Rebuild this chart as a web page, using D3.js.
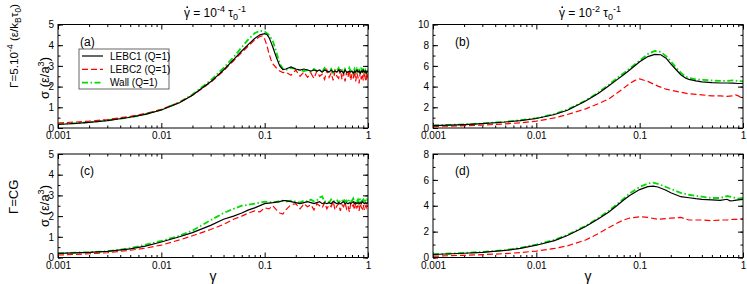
<!DOCTYPE html>
<html>
<head>
<meta charset="utf-8">
<script src="https://cdn.jsdelivr.net/npm/d3@7"></script>
<style>
    body { margin: 0; background: #fff; }
    svg { font-family: "Liberation Sans", Arial, sans-serif; }
</style>
</head>
<body>
<svg id="chart" width="747" height="284"></svg>
<script>
// strain values
const X_TICKS = [0.001, 0.01, 0.1, 1];
const X_TICK_LABELS = ["0.001", "0.01", "0.1", "1"];
const SERIES_NAMES = ["LEBC1 (Q=1)", "LEBC2 (Q=1)", "Wall (Q=1)"];

// noisy plateau, sampled on one strain grid
const TAIL_X = [0.16, 0.18, 0.2, 0.22, 0.24, 0.26, 0.28, 0.3, 0.32, 0.34, 0.36, 0.38, 0.4, 0.42,
    0.44, 0.46, 0.48, 0.5, 0.52, 0.54, 0.56, 0.58, 0.6, 0.62, 0.64, 0.66, 0.68, 0.7, 0.72,
    0.74, 0.76, 0.78, 0.8, 0.82, 0.84, 0.86, 0.88, 0.9, 0.92, 0.94, 0.96, 0.98, 1.0];

// (a) Gamma = 5e-4, rate 1e-4
const A_LEBC1 = [[0.001, 0.17], [0.0015, 0.22], [0.002, 0.27], [0.003, 0.36], [0.005, 0.52], [0.007, 0.66],
    [0.01, 0.87], [0.015, 1.22], [0.02, 1.58], [0.03, 2.23], [0.04, 2.8], [0.05, 3.3], [0.06, 3.72],
    [0.07, 4.05], [0.08, 4.32], [0.09, 4.5], [0.1, 4.56], [0.105, 4.52], [0.11, 4.38], [0.115, 4.15],
    [0.12, 3.9], [0.13, 3.4], [0.14, 3.0], [0.15, 2.82]];
const A_LEBC1_TAIL = [2.85, 2.95, 2.85, 2.8, 2.85, 2.8, 2.75, 2.8, 2.75, 2.8, 2.7, 2.8, 2.75, 2.7, 2.8,
    2.7, 2.75, 2.7, 2.8, 2.7, 2.75, 2.65, 2.8, 2.7, 2.7, 2.75, 2.7, 2.75, 2.65, 2.75, 2.7, 2.8, 2.7,
    2.75, 2.65, 2.75, 2.7, 2.8, 2.7, 2.75, 2.65, 2.75, 2.7];
const A_LEBC2 = [[0.001, 0.24], [0.0015, 0.29], [0.002, 0.33], [0.003, 0.41], [0.005, 0.56], [0.007, 0.7],
    [0.01, 0.9], [0.015, 1.24], [0.02, 1.58], [0.03, 2.2], [0.04, 2.76], [0.05, 3.25], [0.06, 3.65],
    [0.07, 3.98], [0.08, 4.25], [0.09, 4.42], [0.095, 4.45], [0.1, 4.3], [0.105, 4.0], [0.11, 3.6],
    [0.115, 3.3], [0.12, 3.1], [0.13, 2.9], [0.14, 2.75], [0.15, 2.68]];
const A_LEBC2_TAIL = [2.7, 2.55, 2.8, 2.5, 2.7, 2.45, 2.65, 2.4, 2.75, 2.5, 2.6, 2.35, 2.8, 2.45, 2.65,
    2.3, 2.75, 2.5, 2.4, 2.85, 2.35, 2.65, 2.25, 2.7, 2.45, 2.8, 2.3, 2.6, 2.4, 2.75, 2.25, 2.65, 2.45,
    2.15, 2.7, 2.35, 2.6, 2.3, 2.75, 2.4, 2.25, 2.65, 2.45];
const A_WALL = [[0.001, 0.2], [0.0015, 0.24], [0.002, 0.28], [0.003, 0.37], [0.005, 0.52], [0.007, 0.67],
    [0.01, 0.88], [0.015, 1.25], [0.02, 1.62], [0.03, 2.3], [0.04, 2.9], [0.05, 3.42], [0.06, 3.9],
    [0.07, 4.3], [0.08, 4.58], [0.09, 4.7], [0.1, 4.66], [0.11, 4.5], [0.12, 4.2], [0.13, 3.65],
    [0.14, 3.1], [0.15, 2.85]];
const A_WALL_TAIL = [2.8, 2.9, 2.85, 2.8, 2.75, 2.8, 2.7, 2.85, 2.75, 2.8, 2.7, 2.9, 2.75, 2.7, 2.85,
    2.65, 2.8, 2.75, 2.9, 2.7, 2.8, 2.65, 2.85, 2.75, 2.7, 2.9, 2.75, 2.8, 2.65, 2.85, 2.7, 2.95, 2.75,
    2.8, 2.6, 2.85, 2.75, 2.9, 2.7, 2.8, 2.65, 2.85, 2.8];

// (b) Gamma = 5e-4, rate 1e-2
const B_LEBC1 = [[0.001, 0.22], [0.002, 0.33], [0.003, 0.42], [0.005, 0.58], [0.007, 0.72], [0.01, 0.92],
    [0.015, 1.3], [0.02, 1.72], [0.03, 2.6], [0.04, 3.35], [0.05, 4.05], [0.06, 4.65], [0.07, 5.15],
    [0.08, 5.6], [0.1, 6.4], [0.12, 6.9], [0.14, 7.12], [0.16, 7.08], [0.18, 6.75], [0.2, 6.2],
    [0.22, 5.75], [0.25, 5.15], [0.28, 4.8], [0.3, 4.7], [0.35, 4.55], [0.4, 4.45], [0.5, 4.38],
    [0.6, 4.35], [0.7, 4.35], [0.8, 4.33], [0.9, 4.3], [1.0, 4.3]];
const B_LEBC2 = [[0.001, 0.15], [0.002, 0.22], [0.003, 0.28], [0.005, 0.4], [0.007, 0.5], [0.01, 0.66],
    [0.015, 0.98], [0.02, 1.3], [0.03, 1.85], [0.04, 2.35], [0.05, 2.8], [0.06, 3.35], [0.07, 3.85],
    [0.08, 4.3], [0.09, 4.6], [0.1, 4.75], [0.12, 4.5], [0.15, 4.05], [0.18, 3.75], [0.2, 3.65],
    [0.25, 3.45], [0.3, 3.3], [0.4, 3.2], [0.5, 3.1], [0.6, 3.1], [0.7, 3.05], [0.8, 3.1], [0.85, 3.2],
    [0.9, 3.1], [1.0, 2.85]];
const B_WALL = [[0.001, 0.25], [0.002, 0.35], [0.003, 0.44], [0.005, 0.6], [0.007, 0.75], [0.01, 0.95],
    [0.015, 1.35], [0.02, 1.78], [0.03, 2.65], [0.04, 3.45], [0.05, 4.15], [0.06, 4.8], [0.07, 5.3],
    [0.08, 5.75], [0.1, 6.5], [0.12, 7.15], [0.14, 7.45], [0.16, 7.35], [0.18, 6.95], [0.2, 6.45],
    [0.22, 5.95], [0.25, 5.35], [0.28, 4.95], [0.3, 4.85], [0.35, 4.7], [0.4, 4.65], [0.5, 4.6],
    [0.6, 4.55], [0.7, 4.55], [0.8, 4.6], [0.9, 4.55], [1.0, 4.5]];

// (c) Gamma = CG, rate 1e-4
const C_LEBC1 = [[0.001, 0.2], [0.002, 0.25], [0.003, 0.3], [0.005, 0.42], [0.007, 0.55], [0.01, 0.75],
    [0.015, 1.0], [0.02, 1.2], [0.03, 1.55], [0.04, 1.85], [0.05, 2.0], [0.06, 2.15], [0.07, 2.3],
    [0.08, 2.4], [0.1, 2.6], [0.12, 2.65], [0.14, 2.7], [0.15, 2.75]];
const C_LEBC1_TAIL = [2.75, 2.7, 2.65, 2.6, 2.65, 2.7, 2.65, 2.6, 2.65, 2.7, 2.6, 2.65, 2.6, 2.65, 2.6,
    2.7, 2.65, 2.6, 2.65, 2.6, 2.65, 2.7, 2.6, 2.65, 2.6, 2.65, 2.6, 2.65, 2.7, 2.6, 2.65, 2.6, 2.65,
    2.6, 2.65, 2.6, 2.7, 2.65, 2.6, 2.65, 2.6, 2.65, 2.6];
const C_LEBC2 = [[0.001, 0.12], [0.002, 0.18], [0.003, 0.23], [0.005, 0.35], [0.007, 0.45], [0.01, 0.6],
    [0.015, 0.85], [0.02, 1.05], [0.03, 1.35], [0.04, 1.6], [0.05, 1.85], [0.06, 2.0], [0.07, 2.15],
    [0.08, 2.25], [0.09, 2.2], [0.1, 2.4], [0.11, 2.35], [0.12, 2.5], [0.13, 2.3], [0.14, 2.15],
    [0.15, 2.1]];
const C_LEBC2_TAIL = [2.3, 2.55, 2.6, 2.35, 2.6, 2.45, 2.55, 2.3, 2.6, 2.5, 2.4, 2.65, 2.35, 2.55, 2.45,
    2.7, 2.3, 2.5, 2.6, 2.25, 2.55, 2.45, 2.65, 2.35, 2.5, 2.2, 2.6, 2.45, 2.55, 2.3, 2.65, 2.4, 2.5,
    2.25, 2.6, 2.45, 2.35, 2.55, 2.3, 2.5, 2.4, 2.6, 2.45];
const C_WALL = [[0.001, 0.2], [0.003, 0.3], [0.005, 0.45], [0.01, 0.8], [0.015, 1.05], [0.02, 1.3],
    [0.03, 1.8], [0.04, 2.15], [0.05, 2.35], [0.06, 2.5], [0.07, 2.55], [0.08, 2.6], [0.1, 2.7],
    [0.12, 2.65], [0.15, 2.75]];
const C_WALL_TAIL = [2.7, 2.75, 2.7, 2.65, 2.75, 2.7, 2.8, 2.7, 2.75, 2.9, 2.95, 2.7, 2.75, 2.65, 2.8,
    2.7, 2.75, 2.8, 2.65, 2.75, 2.7, 2.85, 2.7, 2.75, 2.65, 2.8, 2.7, 2.75, 2.85, 2.65, 2.75, 2.7, 2.8,
    2.65, 2.85, 2.7, 2.75, 2.8, 2.65, 2.75, 2.7, 2.8, 2.7];

// (d) Gamma = CG, rate 1e-2
const D_LEBC1 = [[0.001, 0.23], [0.002, 0.33], [0.003, 0.4], [0.005, 0.55], [0.007, 0.7], [0.01, 0.95],
    [0.015, 1.3], [0.02, 1.7], [0.03, 2.4], [0.04, 3.0], [0.05, 3.5], [0.06, 4.0], [0.07, 4.45],
    [0.08, 4.8], [0.1, 5.25], [0.12, 5.48], [0.135, 5.52], [0.15, 5.45], [0.18, 5.2], [0.2, 5.0],
    [0.25, 4.7], [0.3, 4.62], [0.35, 4.55], [0.4, 4.5], [0.5, 4.45], [0.6, 4.42], [0.7, 4.5],
    [0.75, 4.38], [0.8, 4.4], [0.9, 4.45], [1.0, 4.5]];
const D_LEBC2 = [[0.001, 0.1], [0.002, 0.17], [0.003, 0.22], [0.005, 0.3], [0.007, 0.38], [0.01, 0.5],
    [0.015, 0.7], [0.02, 0.9], [0.03, 1.35], [0.04, 1.85], [0.05, 2.3], [0.06, 2.65], [0.07, 2.9],
    [0.08, 3.05], [0.1, 3.15], [0.12, 3.1], [0.15, 2.95], [0.2, 3.05], [0.25, 3.1], [0.3, 2.9],
    [0.4, 2.9], [0.5, 2.85], [0.6, 2.9], [0.7, 2.9], [0.8, 2.95], [0.9, 2.95], [1.0, 3.0]];
const D_WALL = [[0.001, 0.25], [0.002, 0.35], [0.003, 0.43], [0.005, 0.58], [0.007, 0.74], [0.01, 1.0],
    [0.015, 1.36], [0.02, 1.75], [0.03, 2.45], [0.04, 3.05], [0.05, 3.6], [0.06, 4.1], [0.07, 4.55],
    [0.08, 4.95], [0.1, 5.45], [0.12, 5.72], [0.135, 5.78], [0.15, 5.7], [0.18, 5.45], [0.2, 5.3],
    [0.25, 5.0], [0.3, 4.85], [0.4, 4.7], [0.5, 4.6], [0.6, 4.6], [0.7, 4.75], [0.8, 4.65],
    [0.9, 4.55], [1.0, 4.6]];

const withTail = (head, tail) => head.concat(tail ? d3.zip(TAIL_X, tail) : []);

const STYLES = [
    { color: "#000000", width: 1.2, dash: null },
    { color: "#ff0000", width: 1.2, dash: "6,3" },
    { color: "#00dd00", width: 1.8, dash: "6,2.5,1.5,2.5" }
];

const panels = [
    { tag: "(a)", left: 58, top: 24.5, yMax: 5, yStep: 1, yMinor: 0.5,
      series: [withTail(A_LEBC1, A_LEBC1_TAIL), withTail(A_LEBC2, A_LEBC2_TAIL), withTail(A_WALL, A_WALL_TAIL)] },
    { tag: "(b)", left: 433, top: 24.5, yMax: 10, yStep: 2, yMinor: 1,
      series: [B_LEBC1, B_LEBC2, B_WALL] },
    { tag: "(c)", left: 58, top: 154, yMax: 5, yStep: 1, yMinor: 0.5,
      series: [withTail(C_LEBC1, C_LEBC1_TAIL), withTail(C_LEBC2, C_LEBC2_TAIL), withTail(C_WALL, C_WALL_TAIL)] },
    { tag: "(d)", left: 433, top: 154, yMax: 8, yStep: 2, yMinor: 1,
      series: [D_LEBC1, D_LEBC2, D_WALL] }
];

const PW = 310, PH = 103.5;
const svg = d3.select("#chart");

let minorX = [];
[0.001, 0.01, 0.1].forEach(dec => d3.range(2, 10).forEach(k => minorX.push(dec * k)));

panels.forEach((p) => {
    let x = d3.scaleLog().domain([0.001, 1]).range([0, PW]),
        y = d3.scaleLinear().domain([0, p.yMax]).range([PH, 0]);

    let g = svg.append("g").attr("transform", "translate(" + p.left + "," + p.top + ")");

    g.append("defs").append("clipPath").attr("id", "clip" + p.tag[1])
        .append("rect").attr("width", PW).attr("height", PH);

    let yMajor = d3.range(0, p.yMax + 0.001, p.yStep),
        yMinor = d3.range(0, p.yMax + 0.001, p.yMinor);

    let ax = (axis, tr) => {
        let a = g.append("g").attr("transform", tr).call(axis);
        a.select(".domain").remove();
        a.selectAll("text").attr("font-size", 10).attr("font-family", "Liberation Sans, Arial, sans-serif");
        return a;
    };

    // major + minor ticks pointing inwards on all four sides
    ax(d3.axisBottom(x).tickValues(X_TICKS).tickFormat((d, i) => X_TICK_LABELS[i]).tickSize(-5).tickPadding(4), "translate(0," + PH + ")");
    ax(d3.axisBottom(x).tickValues(minorX).tickFormat("").tickSize(-2.5), "translate(0," + PH + ")");
    ax(d3.axisTop(x).tickValues(X_TICKS).tickFormat("").tickSize(-5), "translate(0,0)");
    ax(d3.axisTop(x).tickValues(minorX).tickFormat("").tickSize(-2.5), "translate(0,0)");
    ax(d3.axisLeft(y).tickValues(yMajor).tickFormat(d3.format("d")).tickSize(-5).tickPadding(4), "translate(0,0)");
    ax(d3.axisLeft(y).tickValues(yMinor).tickFormat("").tickSize(-2.5), "translate(0,0)");
    ax(d3.axisRight(y).tickValues(yMajor).tickFormat("").tickSize(-5), "translate(" + PW + ",0)");
    ax(d3.axisRight(y).tickValues(yMinor).tickFormat("").tickSize(-2.5), "translate(" + PW + ",0)");

    let line = d3.line().x(d => x(d[0])).y(d => y(d[1]));

    let lines = g.append("g").attr("clip-path", "url(#clip" + p.tag[1] + ")");
    // black drawn last so it sits on top
    [2, 1, 0].forEach(i => {
        lines.append("path")
            .datum(p.series[i])
            .attr("d", line)
            .attr("fill", "none")
            .attr("stroke", STYLES[i].color)
            .attr("stroke-width", STYLES[i].width)
            .attr("stroke-dasharray", STYLES[i].dash);
    });

    g.append("rect").attr("width", PW).attr("height", PH)
        .attr("fill", "none").attr("stroke", "#000").attr("stroke-width", 1);

    g.append("text").attr("x", 22).attr("y", 21).attr("font-size", 12).text(p.tag);
});

// legend in panel (a)
let leg = svg.append("g").attr("transform", "translate(79,49)");
leg.append("rect").attr("width", 90).attr("height", 40)
    .attr("fill", "#fff").attr("stroke", "#666").attr("stroke-width", 1);
SERIES_NAMES.forEach((name, i) => {
    let yy = 7 + i * 13.3;
    leg.append("line").attr("x1", 3).attr("x2", 24).attr("y1", yy).attr("y2", yy)
        .attr("stroke", STYLES[i].color).attr("stroke-width", STYLES[i].width)
        .attr("stroke-dasharray", STYLES[i].dash);
    leg.append("text").attr("x", 31).attr("y", yy + 3.5).attr("font-size", 10).text(name);
});

// column titles: gamma-dot = 10^exp tau_0^-1
function rateTitle(cx, exp) {
    let t = svg.append("text").attr("x", cx).attr("y", 17).attr("font-size", 12).attr("text-anchor", "middle");
    t.append("tspan").text("\u03B3 = 10");
    t.append("tspan").attr("dy", -5).attr("font-size", 9).text(exp);
    t.append("tspan").attr("dy", 5).text(" \u03C4");
    t.append("tspan").attr("dy", 3).attr("font-size", 9).text("0");
    t.append("tspan").attr("dy", -8).attr("font-size", 9).text("-1");
    let b = t.node().getExtentOfChar(0);
    svg.append("circle").attr("cx", b.x + b.width / 2 + 0.3).attr("cy", b.y + 1.2)
        .attr("r", 0.9).attr("fill", "#000");
}
rateTitle(215, "-4");
rateTitle(590, "-2");

// x labels
[213, 588].forEach(cx => svg.append("text").attr("x", cx).attr("y", 281)
    .attr("font-size", 14).attr("text-anchor", "middle").text("\u03B3"));

// sigma labels
function sigmaLabel(cy) {
    let t = svg.append("text").attr("transform", "translate(49," + cy + ") rotate(-90)")
        .attr("font-size", 13).attr("text-anchor", "middle");
    t.append("tspan").text("\u03C3 (\u03B5/a");
    t.append("tspan").attr("dy", -5).attr("font-size", 9).text("3");
    t.append("tspan").attr("dy", 5).text(")");
}
sigmaLabel(78);
sigmaLabel(206);

// row labels; the first one is shrunk until it fits the space left of the panel
function rowLabel1(size) {
    let s = size, sm = size * 0.72;
    let t = svg.append("text").attr("transform", "translate(18,88) rotate(-90)").attr("font-size", s);
    t.append("tspan").text("\u0393=5.10");
    t.append("tspan").attr("dy", -s * 0.4).attr("font-size", sm).text("-4");
    t.append("tspan").attr("dy", s * 0.4).text(" (\u03B5/k");
    t.append("tspan").attr("dy", s * 0.25).attr("font-size", sm).text("B");
    t.append("tspan").attr("dy", -s * 0.25).text("\u03C4");
    t.append("tspan").attr("dy", s * 0.25).attr("font-size", sm).text("0");
    t.append("tspan").attr("dy", -s * 0.25).text(")");
    return t;
}
let r1 = rowLabel1(12);
let len = r1.node().getComputedTextLength();
if (len > 84) {
    let size = Math.max(10.5, 12 * 84 / len);
    r1.remove();
    rowLabel1(size);
}

svg.append("text").attr("transform", "translate(18,214) rotate(-90)").attr("font-size", 13).text("\u0393=CG");
</script>
</body>
</html>
